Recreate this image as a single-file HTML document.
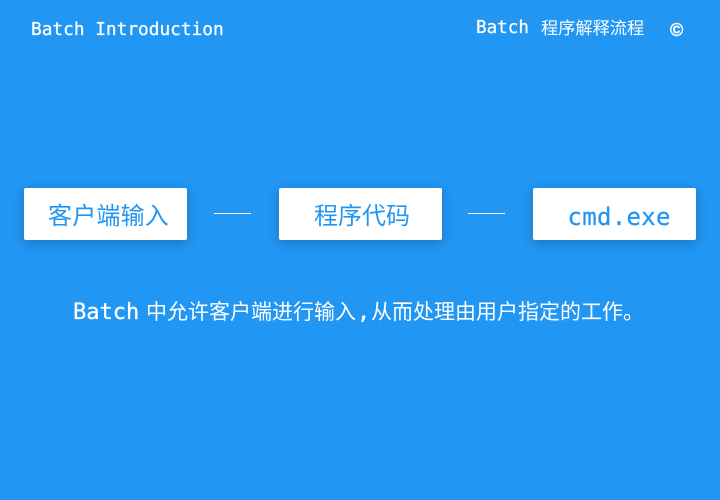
<!DOCTYPE html>
<html>
<head>
<meta charset="utf-8">
<style>
html,body{margin:0;padding:0}
body{width:720px;height:500px;background:#2196f3;position:relative;overflow:hidden;font-family:"DejaVu Sans Mono","Noto Sans CJK SC",monospace}
.t{position:absolute;white-space:pre;color:#fff;line-height:1}
.m{-webkit-text-stroke:.25px #fff}
.s{font-family:"Liberation Sans","Noto Sans CJK SC",sans-serif}
.b{position:absolute;top:188px;width:163px;height:52px;background:#fff;border-radius:2px;box-shadow:0 3px 12px rgba(0,0,0,.22)}
.l{position:absolute;top:213px;width:37px;height:1px;background:#fff}
.c{color:#2196f3}
</style>
</head>
<body>
<div class="t m" style="left:31px;top:21px;font-size:17.8px">Batch Introduction</div>
<div class="t m" style="left:476px;top:20px;font-size:17.6px">Batch</div>
<div class="t s" style="left:541px;top:20px;font-size:17.2px">程序解释流程</div>
<div class="t s" style="left:670px;top:21px;font-size:18px;font-weight:bold;-webkit-text-stroke:.4px #fff">©</div>

<div class="b" style="left:24px"></div>
<div class="l" style="left:214px"></div>
<div class="b" style="left:279px"></div>
<div class="l" style="left:468px"></div>
<div class="b" style="left:533px"></div>

<div class="t s c" style="left:48px;top:205px;font-size:24px;letter-spacing:.2px">客户端输入</div>
<div class="t s c" style="left:314px;top:205px;font-size:24px">程序代码</div>
<div class="t c" style="left:567.5px;top:205px;font-size:24px;letter-spacing:.3px;-webkit-text-stroke:.25px #2196f3">cmd.exe</div>

<div class="t m" style="left:73px;top:302px;font-size:22px">Batch</div>
<div class="t s" style="left:146px;top:302px;font-size:21px">中允许客户端进行输入</div>
<div class="t m" style="left:357px;top:302px;font-size:22px">,</div>
<div class="t s" style="left:371px;top:302px;font-size:21px">从而处理由用户指定的工作。</div>
</body>
</html>
